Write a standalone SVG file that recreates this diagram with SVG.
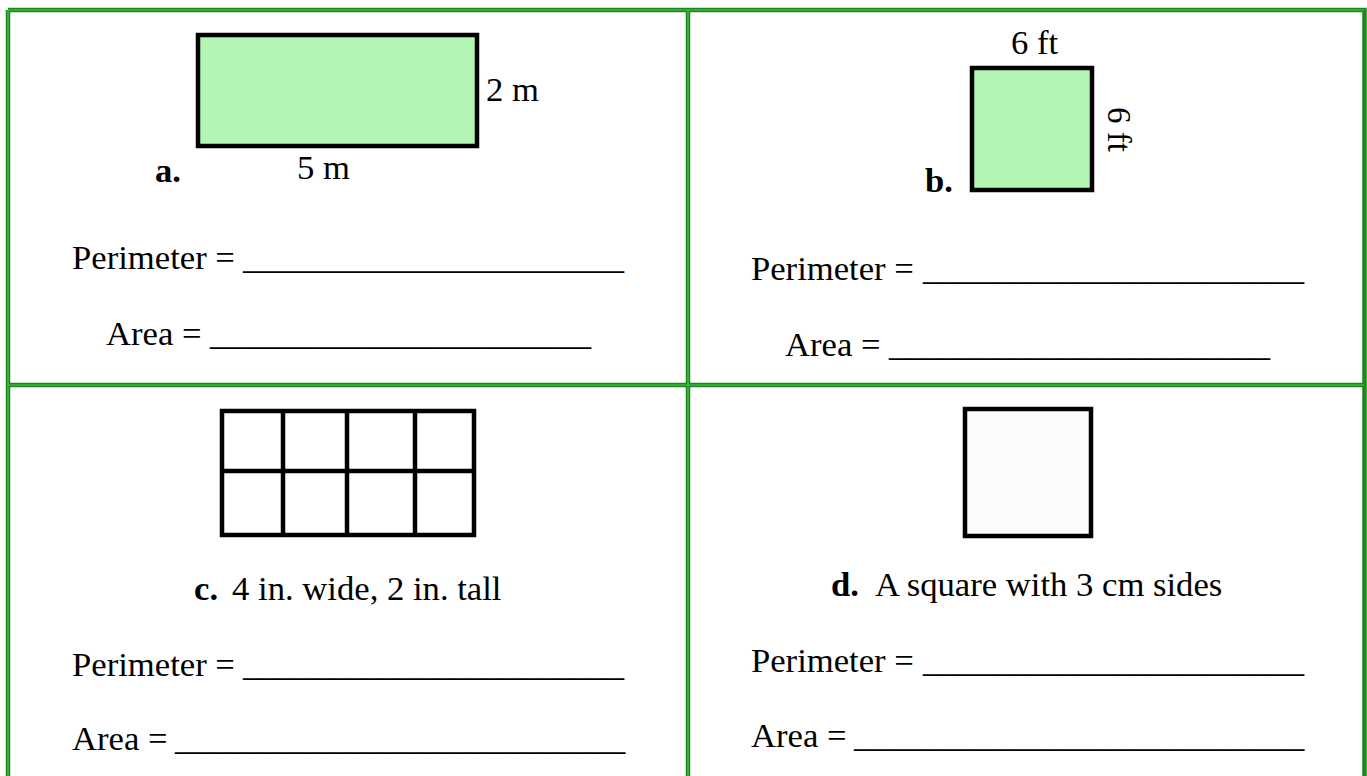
<svg xmlns="http://www.w3.org/2000/svg" width="1367" height="776" viewBox="0 0 1367 776">
<style>
text{font-family:"Liberation Serif","Times New Roman",serif;font-size:33px;fill:#000}
.b{font-weight:bold}
.shape{stroke:#000;stroke-width:4.5}
.green{fill:#b3f5b3}
.bd{stroke:#178a17;stroke-width:4.5;fill:none}
.bi{stroke:#5cbf5c;stroke-width:1.2;fill:none}
</style>
<rect width="1367" height="776" fill="#fff"/>
<g id="table">
<path class="bd" d="M8 10H1364.5V800M8 10V800M688 10V800M8 385H1364.5"/>
<path class="bi" d="M8 10H1364.5M8 10V800M688 10V800M8 385H1364.5"/>
</g>
<g id="cell-a">
<rect class="shape green" x="198" y="35" width="279" height="111"/>
<g transform="scale(1.05 1)">
<text x="462.9" y="101">2 m</text>
<text class="b" x="147.6" y="182">a.</text>
<text x="282.9" y="179">5 m</text>
<text x="68.6" y="269">Perimeter =<tspan x="231.4">______________________</tspan></text>
<text x="101" y="345">Area =<tspan x="200">______________________</tspan></text>
</g>
</g>
<g id="cell-b">
<rect class="shape green" x="972" y="68" width="120" height="122"/>
<text transform="translate(1108 107) rotate(90)" x="0" y="0">6 ft</text>
<g transform="scale(1.05 1)">
<text x="962.9" y="54">6 ft</text>
<text class="b" x="881" y="192">b.</text>
<text x="715.2" y="280">Perimeter =<tspan x="879">______________________</tspan></text>
<text x="747.6" y="356">Area =<tspan x="846.7">______________________</tspan></text>
</g>
</g>
<g id="cell-c">
<rect class="shape" fill="#fff" x="222" y="411" width="252" height="124"/>
<path class="shape" d="M283 411V535M347 411V535M415 411V535M222 471H474"/>
<g transform="scale(1.05 1)">
<text x="184.8" y="600"><tspan class="b">c.</tspan><tspan x="221">4 in. wide, 2 in. tall</tspan></text>
<text x="68.6" y="676">Perimeter =<tspan x="231.4">______________________</tspan></text>
<text x="68.6" y="750">Area =<tspan x="166.7">__________________________</tspan></text>
</g>
</g>
<g id="cell-d">
<rect class="shape" fill="#f9fcf9" x="965" y="409" width="126" height="127"/>
<g transform="scale(1.05 1)">
<text x="791.4" y="596"><tspan class="b">d.</tspan><tspan x="833.3">A square with 3 cm sides</tspan></text>
<text x="715.2" y="672">Perimeter =<tspan x="879">______________________</tspan></text>
<text x="715.2" y="747">Area =<tspan x="813.3">__________________________</tspan></text>
</g>
</g>
</svg>
